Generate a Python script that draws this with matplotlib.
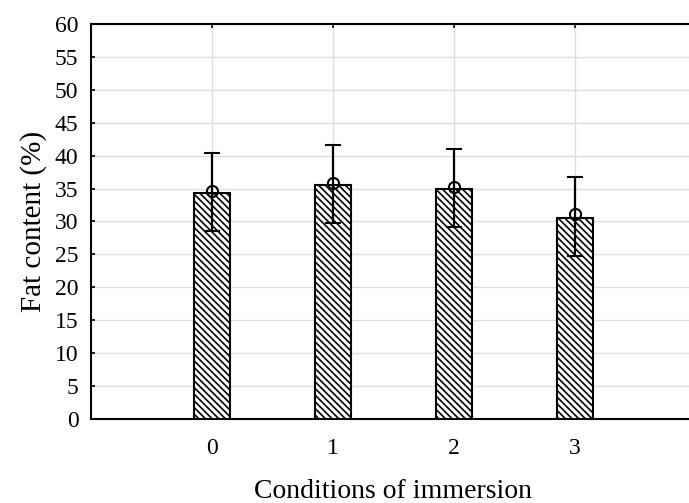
import matplotlib
matplotlib.use('Agg')
import matplotlib.pyplot as plt

# conditions of immersion and fat content (%)
conditions = [0, 1, 2, 3]
bar_height = [34.4, 35.6, 34.95, 30.6]
mean_fat   = [34.7, 35.9, 35.3, 31.1]
err_low    = [28.6, 29.8, 29.1, 24.8]
err_high   = [40.4, 41.6, 41.0, 36.8]

plt.rcParams['font.family'] = ['Liberation Serif', 'DejaVu Serif']
plt.rcParams['hatch.linewidth'] = 1.2
plt.rcParams['hatch.color'] = '#5a5a5a'

fig = plt.figure(figsize=(6.89, 5.03), dpi=100)
ax = fig.add_axes([0.1321, 0.167, 0.878, 0.7853])

ax.bar(conditions, bar_height, width=0.29, color='white', edgecolor='black',
       linewidth=1.5, hatch='\\\\\\\\\\', zorder=3)

yerr = [[m - lo for m, lo in zip(mean_fat, err_low)],
        [hi - m for m, hi in zip(mean_fat, err_high)]]
ax.errorbar(conditions, mean_fat, yerr=yerr, fmt='o', mfc='none', mec='black',
            ms=8, mew=1.5, ecolor='black', elinewidth=1.6, capsize=6,
            capthick=1.6, zorder=4)

ax.set_xlim(-1, 4)
ax.set_ylim(0, 60)
ax.set_xticks(conditions)
ax.set_yticks(range(0, 61, 5))
ax.grid(True, color='#dddddd', linewidth=1.0, zorder=0)
ax.set_axisbelow(True)

for side in ['left', 'bottom', 'top']:
    ax.spines[side].set_linewidth(1.5)
ax.spines['right'].set_visible(False)

ax.tick_params(axis='both', direction='in', length=3, width=1.2,
               top=True, labelsize=17)
ax.tick_params(axis='x', pad=14)
ax.tick_params(axis='y', pad=9)

ax.set_xlabel('Conditions of immersion', fontsize=20, labelpad=14)
ax.set_ylabel('Fat content (%)', fontsize=21, labelpad=6)

fig.savefig('out.png', dpi=100)
